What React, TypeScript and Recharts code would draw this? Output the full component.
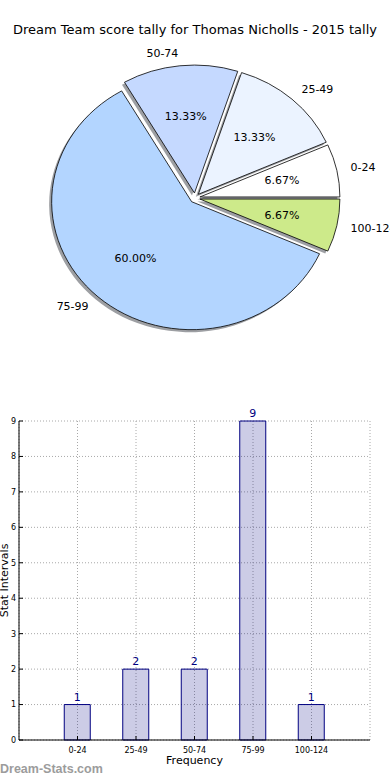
import { Bar, BarChart, CartesianGrid, Cell, Label, LabelList, Pie, PieChart, XAxis, YAxis } from "recharts"

const categories = ["0-24", "25-49", "50-74", "75-99", "100-124"]
const counts = [1, 2, 2, 9, 1]
const sliceColors = ["#ffffff", "#ebf3ff", "#c5d9ff", "#b3d5ff", "#cdea8a"]
const yTicks = [0, 1, 2, 3, 4, 5, 6, 7, 8, 9]

const data = categories.map((name, i) => ({ name, value: counts[i] }))

const FONT = "'DejaVu Sans', sans-serif"
const RY = 0.914
const EXPLODE = 5
const RAD = Math.PI / 180

function slicePath(p: any, dx: number, dy: number) {
  const rx = p.outerRadius
  const ry = p.outerRadius * RY
  const ox = p.cx + EXPLODE * Math.cos(p.midAngle * RAD) + dx
  const oy = p.cy - EXPLODE * Math.sin(p.midAngle * RAD) + dy
  const x1 = ox + rx * Math.cos(p.startAngle * RAD)
  const y1 = oy - ry * Math.sin(p.startAngle * RAD)
  const x2 = ox + rx * Math.cos(p.endAngle * RAD)
  const y2 = oy - ry * Math.sin(p.endAngle * RAD)
  const large = Math.abs(p.endAngle - p.startAngle) > 180 ? 1 : 0
  const sweep = p.endAngle > p.startAngle ? 0 : 1
  return `M${ox},${oy} L${x1},${y1} A${rx},${ry} 0 ${large} ${sweep} ${x2},${y2} Z`
}

const SliceShape = (p: any) => (
  <path d={slicePath(p, 0, 0)} fill={p.fill} stroke="#000" strokeWidth={0.8} />
)

const ShadowShape = (p: any) => (
  <path d={slicePath(p, -2.5, 2.5)} fill="#3c4048" fillOpacity={0.5} stroke="none" />
)

const renderLabel = (p: any) => {
  const a = p.midAngle * RAD
  const ox = p.cx + EXPLODE * Math.cos(a)
  const oy = p.cy - EXPLODE * Math.sin(a)
  const rx = p.outerRadius
  const ry = p.outerRadius * RY
  const lx = ox + 1.1 * rx * Math.cos(a)
  const ly = oy - 1.1 * ry * Math.sin(a)
  const px = ox + 0.6 * rx * Math.cos(a)
  const py = oy - 0.6 * ry * Math.sin(a)
  return (
    <g>
      <text x={lx} y={ly} fontSize={11} fontFamily={FONT} fill="#000" textAnchor={Math.cos(a) >= 0 ? "start" : "end"} dominantBaseline="central">
        {p.name}
      </text>
      <text x={px} y={py} fontSize={11} fontFamily={FONT} fill="#000" textAnchor="middle" dominantBaseline="central">
        {(p.percent * 100).toFixed(2)}%
      </text>
    </g>
  )
}

const NoTick = () => <g />

export default function App() {
  return (
    <div style={{ position: "absolute", left: 0, top: 0, width: 390, height: 780, background: "#fff", fontFamily: FONT }}>
      <div style={{ position: "absolute", top: 22, left: 0, width: 390, textAlign: "center", fontSize: 13, color: "#000" }}>
        Dream Team score tally for Thomas Nicholls - 2015 tally
      </div>
      <div style={{ position: "absolute", top: 0, left: 0 }}>
        <PieChart width={390} height={390} margin={{ top: 0, right: 0, bottom: 0, left: 0 }}>
          <Pie
            data={data}
            dataKey="value"
            nameKey="name"
            cx={195}
            cy={198}
            outerRadius={140}
            startAngle={0}
            endAngle={360}
            isAnimationActive={false}
            shape={ShadowShape}
            label={false}
            labelLine={false}
          />
          <Pie
            data={data}
            dataKey="value"
            nameKey="name"
            cx={195}
            cy={198}
            outerRadius={140}
            startAngle={0}
            endAngle={360}
            isAnimationActive={false}
            shape={SliceShape}
            label={renderLabel}
            labelLine={false}
          >
            {data.map((d, i) => (
              <Cell key={d.name} fill={sliceColors[i]} />
            ))}
          </Pie>
        </PieChart>
      </div>
      <div style={{ position: "absolute", top: 400, left: 0 }}>
        <BarChart width={390} height={380} data={data} margin={{ top: 21, right: 20, left: 0, bottom: 0 }}>
          <CartesianGrid stroke="#a8a8a8" strokeDasharray="1 2" />
          <XAxis
            dataKey="name"
            height={40}
            padding={{ left: 29.25, right: 29.25 }}
            tick={{ fontSize: 8, fill: "#000", fontFamily: FONT }}
            tickLine={{ stroke: "#000" }}
            tickSize={-4}
            axisLine={{ stroke: "#000" }}
            tickMargin={11}
            interval={0}
          >
            <Label value="Frequency" position="insideTop" offset={16} fontSize={11} fill="#000" fontFamily={FONT} />
          </XAxis>
          <XAxis
            xAxisId="top"
            dataKey="name"
            orientation="top"
            height={0}
            padding={{ left: 29.25, right: 29.25 }}
            mirror
            tick={NoTick}
            tickLine={{ stroke: "#000" }}
            tickSize={4}
            interval={0}
            axisLine={{ stroke: "#000" }}
          />
          <YAxis
            width={19}
            domain={[0, 9]}
            ticks={yTicks}
            interval={0}
            tick={{ fontSize: 8, fill: "#000", fontFamily: FONT }}
            tickLine={{ stroke: "#000" }}
            axisLine={{ stroke: "#000" }}
            tickSize={-4}
            tickMargin={7}
          >
            <Label value="Stat Intervals" angle={-90} position="center" dx={-5} fontSize={11} fill="#000" fontFamily={FONT} />
          </YAxis>
          <YAxis
            yAxisId="right"
            orientation="right"
            width={0}
            domain={[0, 9]}
            ticks={yTicks}
            interval={0}
            mirror
            tick={NoTick}
            tickLine={{ stroke: "#000" }}
            tickSize={4}
            axisLine={{ stroke: "#000" }}
          />
          <Bar dataKey="value" barSize={26} fill="#000080" fillOpacity={0.2} stroke="#000080" strokeWidth={1} isAnimationActive={false}>
            <LabelList dataKey="value" position="top" fill="#000080" fontSize={11} fontFamily={FONT} offset={4} />
          </Bar>
        </BarChart>
      </div>
      <div style={{ position: "absolute", top: 762, left: 0, fontSize: 12.5, fontWeight: "bold", color: "#9c9c9c", fontFamily: "'Liberation Sans', Arial, sans-serif" }}>
        Dream-Stats.com
      </div>
    </div>
  )
}
